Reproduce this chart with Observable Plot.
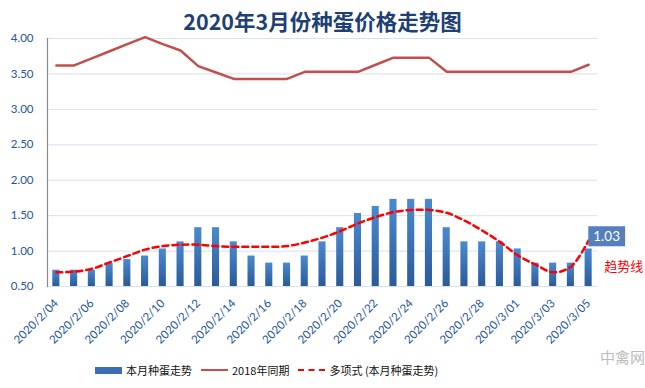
<!DOCTYPE html>
<html><head><meta charset="utf-8">
<script src="https://cdn.jsdelivr.net/npm/d3@7"></script>
<script src="https://cdn.jsdelivr.net/npm/@observablehq/plot@0.6"></script>
<style>
body{margin:0;background:#fff;width:645px;height:388px;overflow:hidden;position:relative;font-family:Lato,"Noto Sans CJK SC",sans-serif;}
#title{position:absolute;left:0;top:8px;width:645px;text-align:center;font-weight:bold;font-size:21.5px;font-family:"Noto Sans CJK SC",sans-serif;color:#1f3f77;line-height:26px;}
#chart{position:absolute;left:0;top:30px;}
#legend{position:absolute;left:95px;top:362px;height:16px;display:flex;align-items:center;font-size:11px;font-family:"Noto Sans CJK SC",sans-serif;color:#111;white-space:nowrap;}
#legend .sw{display:inline-block;width:27px;margin-right:4px;}
#legend .item{display:flex;align-items:center;margin-right:9px;}
#wm{position:absolute;left:600px;top:346px;font-size:15px;color:#bdbdbd;font-family:"Noto Sans CJK SC",sans-serif;}
</style></head>
<body>
<div id="title">2020年3月份种蛋价格走势图</div>
<div id="chart"></div>
<div id="legend">
  <div class="item"><span class="sw" style="height:7px;background:#3a6fb3"></span>本月种蛋走势</div>
  <div class="item"><span class="sw" style="height:0;border-top:2px solid #c0504d"></span>2018年同期</div>
  <div class="item"><span class="sw" style="height:0;border-top:2px dashed #ff0000"></span>多项式 (本月种蛋走势)</div>
</div>
<div id="wm">中禽网</div>
<script>
const dates = ["2020/2/04","2020/2/05","2020/2/06","2020/2/07","2020/2/08","2020/2/09","2020/2/10","2020/2/11","2020/2/12","2020/2/13","2020/2/14","2020/2/15","2020/2/16","2020/2/17","2020/2/18","2020/2/19","2020/2/20","2020/2/21","2020/2/22","2020/2/23","2020/2/24","2020/2/25","2020/2/26","2020/2/27","2020/2/28","2020/2/29","2020/3/01","2020/3/02","2020/3/03","2020/3/04","2020/3/05"];
const thisMonth = [0.73,0.73,0.73,0.83,0.88,0.93,1.03,1.13,1.33,1.33,1.13,0.93,0.83,0.83,0.93,1.13,1.33,1.53,1.63,1.73,1.73,1.73,1.33,1.13,1.13,1.13,1.03,0.83,0.83,0.83,1.03];
const sameTime2018 = [3.62,3.62,3.72,3.82,3.92,4.02,3.92,3.83,3.61,3.52,3.43,3.43,3.43,3.43,3.53,3.53,3.53,3.53,3.63,3.73,3.73,3.73,3.53,3.53,3.53,3.53,3.53,3.53,3.53,3.53,3.63];
const trend = [0.70,0.71,0.75,0.84,0.93,1.02,1.07,1.09,1.09,1.07,1.06,1.06,1.06,1.07,1.12,1.19,1.28,1.39,1.48,1.55,1.58,1.58,1.54,1.43,1.29,1.13,0.94,0.81,0.70,0.78,1.15];
const yTicks = [0.5,1.0,1.5,2.0,2.5,3.0,3.5,4.0];
const xLabels = dates.filter((d,i)=>i%2===0);

const data = dates.map((d,i)=>({date:d, v:thisMonth[i], y18:sameTime2018[i], t:trend[i]}));
const last = [data[data.length-1]];

const svg = Plot.plot({
  width:645, height:320,
  marginLeft:47, marginRight:48, marginTop:8, marginBottom:64,
  style:{color:"#24569a", fontSize:"11.5px", fontFamily:"Lato, 'Noto Sans CJK SC', sans-serif", background:"transparent", overflow:"visible"},
  x:{type:"band", domain:dates, paddingInner:0.6, paddingOuter:0.3, round:false},
  y:{domain:[0.5,4]},
  marks:[
    Plot.ruleY(yTicks, {stroke:"#d7e0ee", strokeWidth:1}),
    Plot.axisY({ticks:yTicks, tickFormat:d3.format(".2f"), tickSize:0, tickPadding:14, label:null}),
    Plot.axisX({ticks:xLabels, tickRotate:-45, tickSize:0, tickPadding:15, label:null}),
    Plot.frame({anchor:"left", stroke:"#8a8a8a", strokeWidth:1.2}),
    Plot.barY(data, {x:"date", y1:0.5, y2:"v", fill:"#3a6fb3", className:"bars"}),
    Plot.line(data, {x:"date", y:"y18", stroke:"#c0504d", strokeWidth:2.5}),
    Plot.line(data, {x:"date", y:"t", stroke:"#ff0000", strokeWidth:2.5, strokeDasharray:"6,4", curve:"catmull-rom"}),
    Plot.text(last, {x:"date", y:"v", text:d=>d.v.toFixed(2), dx:18, dy:-12, fill:"white", fontSize:13.5, className:"dlabel"}),
    Plot.text(last, {x:"date", y:"v", text:()=>"趋势线", dx:35, dy:18, fill:"#ff0000", fontSize:13, fontFamily:"'Noto Sans CJK SC', sans-serif"})
  ]
});
document.getElementById("chart").appendChild(svg);

const ns = "http://www.w3.org/2000/svg";
const defs = document.createElementNS(ns,"defs");
defs.innerHTML = '<linearGradient id="barGrad" x1="0" y1="0" x2="0" y2="1"><stop offset="0" stop-color="#4a8ad2"/><stop offset="1" stop-color="#2b5a98"/></linearGradient>';
svg.insertBefore(defs, svg.firstChild);
svg.querySelectorAll(".bars rect").forEach(r=>r.setAttribute("fill","url(#barGrad)"));
const bg = svg.querySelector("g.bars");
if (bg) bg.setAttribute("fill","url(#barGrad)");

const dl = svg.querySelector(".dlabel text");
if (dl) {
  const b = dl.getBBox();
  const t = dl.getAttribute("transform");
  const rect = document.createElementNS(ns,"rect");
  rect.setAttribute("x", b.x - 5); rect.setAttribute("y", b.y - 2);
  rect.setAttribute("width", b.width + 10); rect.setAttribute("height", b.height + 4);
  rect.setAttribute("fill", "#5580bd");
  if (t) rect.setAttribute("transform", t);
  dl.parentNode.insertBefore(rect, dl);
}
</script>
</body></html>
